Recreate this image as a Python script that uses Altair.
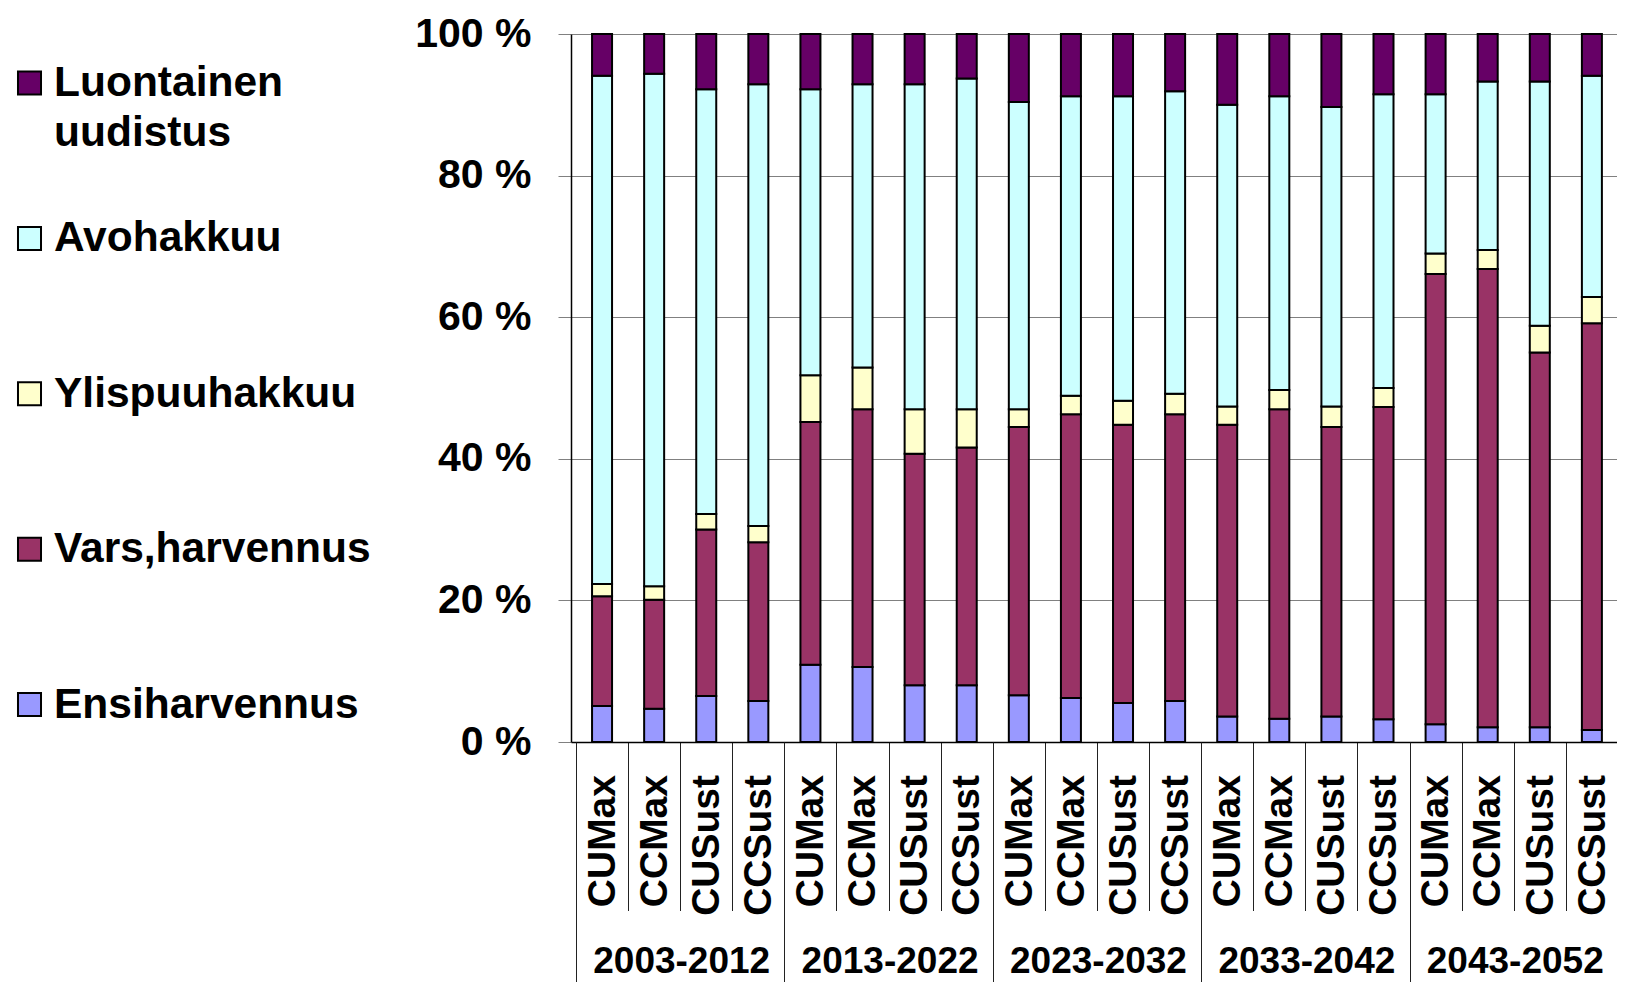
import json
import altair as alt
import pandas as pd

# ---- data ----
periods = ["2003-2012", "2013-2022", "2023-2032", "2033-2042", "2043-2052"]
scenarios = ["CUMax", "CCMax", "CUSust", "CCSust"]
series = ["Ensiharvennus", "Vars,harvennus", "Ylispuuhakkuu", "Avohakkuu", "Luontainen uudistus"]
colors = ["#9999FF", "#993366", "#FFFFCC", "#CCFFFF", "#660066"]

ensi = [5.1, 4.7, 6.5, 5.8, 10.9, 10.6, 8.0, 8.0, 6.6, 6.2, 5.5, 5.8, 3.6, 3.3, 3.6, 3.2, 2.5, 2.1, 2.1, 1.7]
vars_h = [15.5, 15.4, 23.5, 22.4, 34.3, 36.4, 32.7, 33.6, 37.9, 40.1, 39.3, 40.5, 41.2, 43.7, 40.9, 44.1, 63.6, 64.7, 52.9, 57.4]
ylis = [1.7, 1.9, 2.2, 2.3, 6.6, 5.9, 6.3, 5.4, 2.5, 2.6, 3.4, 2.9, 2.6, 2.7, 2.9, 2.7, 2.9, 2.7, 3.8, 3.7]
avo = [71.8, 72.4, 60.0, 62.4, 40.4, 40.0, 45.9, 46.7, 43.4, 42.3, 43.0, 42.7, 42.6, 41.5, 42.3, 41.5, 22.5, 23.8, 34.5, 31.2]
luon = [5.9, 5.6, 7.8, 7.1, 7.8, 7.1, 7.1, 6.3, 9.6, 8.8, 8.8, 8.1, 10.0, 8.8, 10.3, 8.5, 8.5, 6.7, 6.7, 5.9]

legend_lines1 = ["Luontainen", "Avohakkuu", "Ylispuuhakkuu", "Vars,harvennus", "Ensiharvennus"]
legend_lines2 = ["uudistus", "", "", "", ""]

# ---- tables ----
values = [ensi, vars_h, ylis, avo, luon]
rows = []
for p_i, per in enumerate(periods):
    for s_i, sc in enumerate(scenarios):
        i = p_i * 4 + s_i
        for k, name in enumerate(series):
            rows.append({"pos": i + 0.5, "period": per, "scenario": sc,
                         "series": name, "stack_idx": k, "value": values[k][i]})
df = pd.DataFrame(rows)

legend_order = list(reversed(series))
leg = pd.DataFrame({"series": legend_order, "li": list(range(len(legend_order))),
                    "line1": legend_lines1, "line2": legend_lines2})

FONT = "Liberation Sans"
color_scale = alt.Scale(domain=series, range=colors)

N = len(periods) * len(scenarios)
STEP = 52.6
PLOT_W = 1046
PLOT_H = 708
X_MAX = PLOT_W / STEP

x_scale = alt.Scale(domain=[0, X_MAX], nice=False, zero=False)

scen_expr = json.dumps(scenarios) + "[datum.value % 4]"
per_expr = json.dumps(periods) + "[floor(datum.value / 4)]"

bars = alt.Chart(df).mark_bar(size=20, stroke="black", strokeWidth=2).encode(
    x=alt.X("pos:Q", scale=x_scale,
            axis=alt.Axis(orient="bottom", values=list(range(N)), labelExpr=scen_expr,
                          labelOffset=STEP / 2, tickSize=168.5, labelPadding=-136,
                          labelAngle=270, labelFontSize=39, labelOverlap=False,
                          labelFlush=False, tickColor="#222", tickWidth=1,
                          domainColor="black", domainWidth=1.5, grid=False, title=None)),
    y=alt.Y("value:Q", stack="normalize", scale=alt.Scale(domain=[0, 1], nice=False),
            axis=alt.Axis(values=[0, 0.2, 0.4, 0.6, 0.8, 1.0],
                          labelExpr="round(datum.value * 100) + ' %'",
                          tickSize=13, tickColor="#808080", labelPadding=27, labelFontSize=41,
                          domainColor="black", domainWidth=1.5, gridColor="#808080",
                          gridWidth=1, grid=True, title=None)),
    color=alt.Color("series:N", scale=color_scale, legend=None),
    order=alt.Order("stack_idx:Q", sort="ascending"),
)

years = alt.Chart(df).mark_point(opacity=0).encode(
    x=alt.X("pos:Q", scale=x_scale,
            axis=alt.Axis(orient="bottom", values=[0, 4, 8, 12, 16], labelExpr=per_expr,
                          labelOffset=STEP * 2, tickSize=258, labelPadding=-27.5,
                          labelBaseline="alphabetic", labelAngle=0, labelFontSize=37,
                          labelOverlap=False, labelFlush=False, tickColor="#222",
                          tickWidth=1, domain=False, grid=False, title=None)),
)

main = alt.layer(bars, years).resolve_axis(x="independent").properties(
    width=PLOT_W, height=PLOT_H)

leg_y = alt.Y("li:Q", scale=alt.Scale(domain=[-0.3153, 4.2407], reverse=True, nice=False,
                                      zero=False), axis=None)
squares = alt.Chart(leg).mark_square(size=530, stroke="black", strokeWidth=2, opacity=1).encode(
    x=alt.value(21.5), y=leg_y,
    color=alt.Color("series:N", scale=color_scale, legend=None))
text1 = alt.Chart(leg).mark_text(align="left", baseline="alphabetic", dy=13, fontSize=42.5,
                                 font=FONT, fontWeight="bold", color="black").encode(
    x=alt.value(46), y=leg_y, text="line1:N")
text2 = alt.Chart(leg).mark_text(align="left", baseline="alphabetic", dy=63, fontSize=42.5,
                                 font=FONT, fontWeight="bold", color="black").encode(
    x=alt.value(46), y=leg_y, text="line2:N")
legend_panel = alt.layer(squares, text1, text2).properties(width=380, height=PLOT_H)

chart = alt.hconcat(legend_panel, main, spacing=26).properties(
    padding={"left": 0, "top": 5, "right": 0, "bottom": -19}
).configure_view(stroke=None).configure_axis(
    labelFont=FONT, labelFontWeight="bold", labelColor="black"
)

chart.save("out.html", embed_options={"renderer": "svg", "actions": False})
